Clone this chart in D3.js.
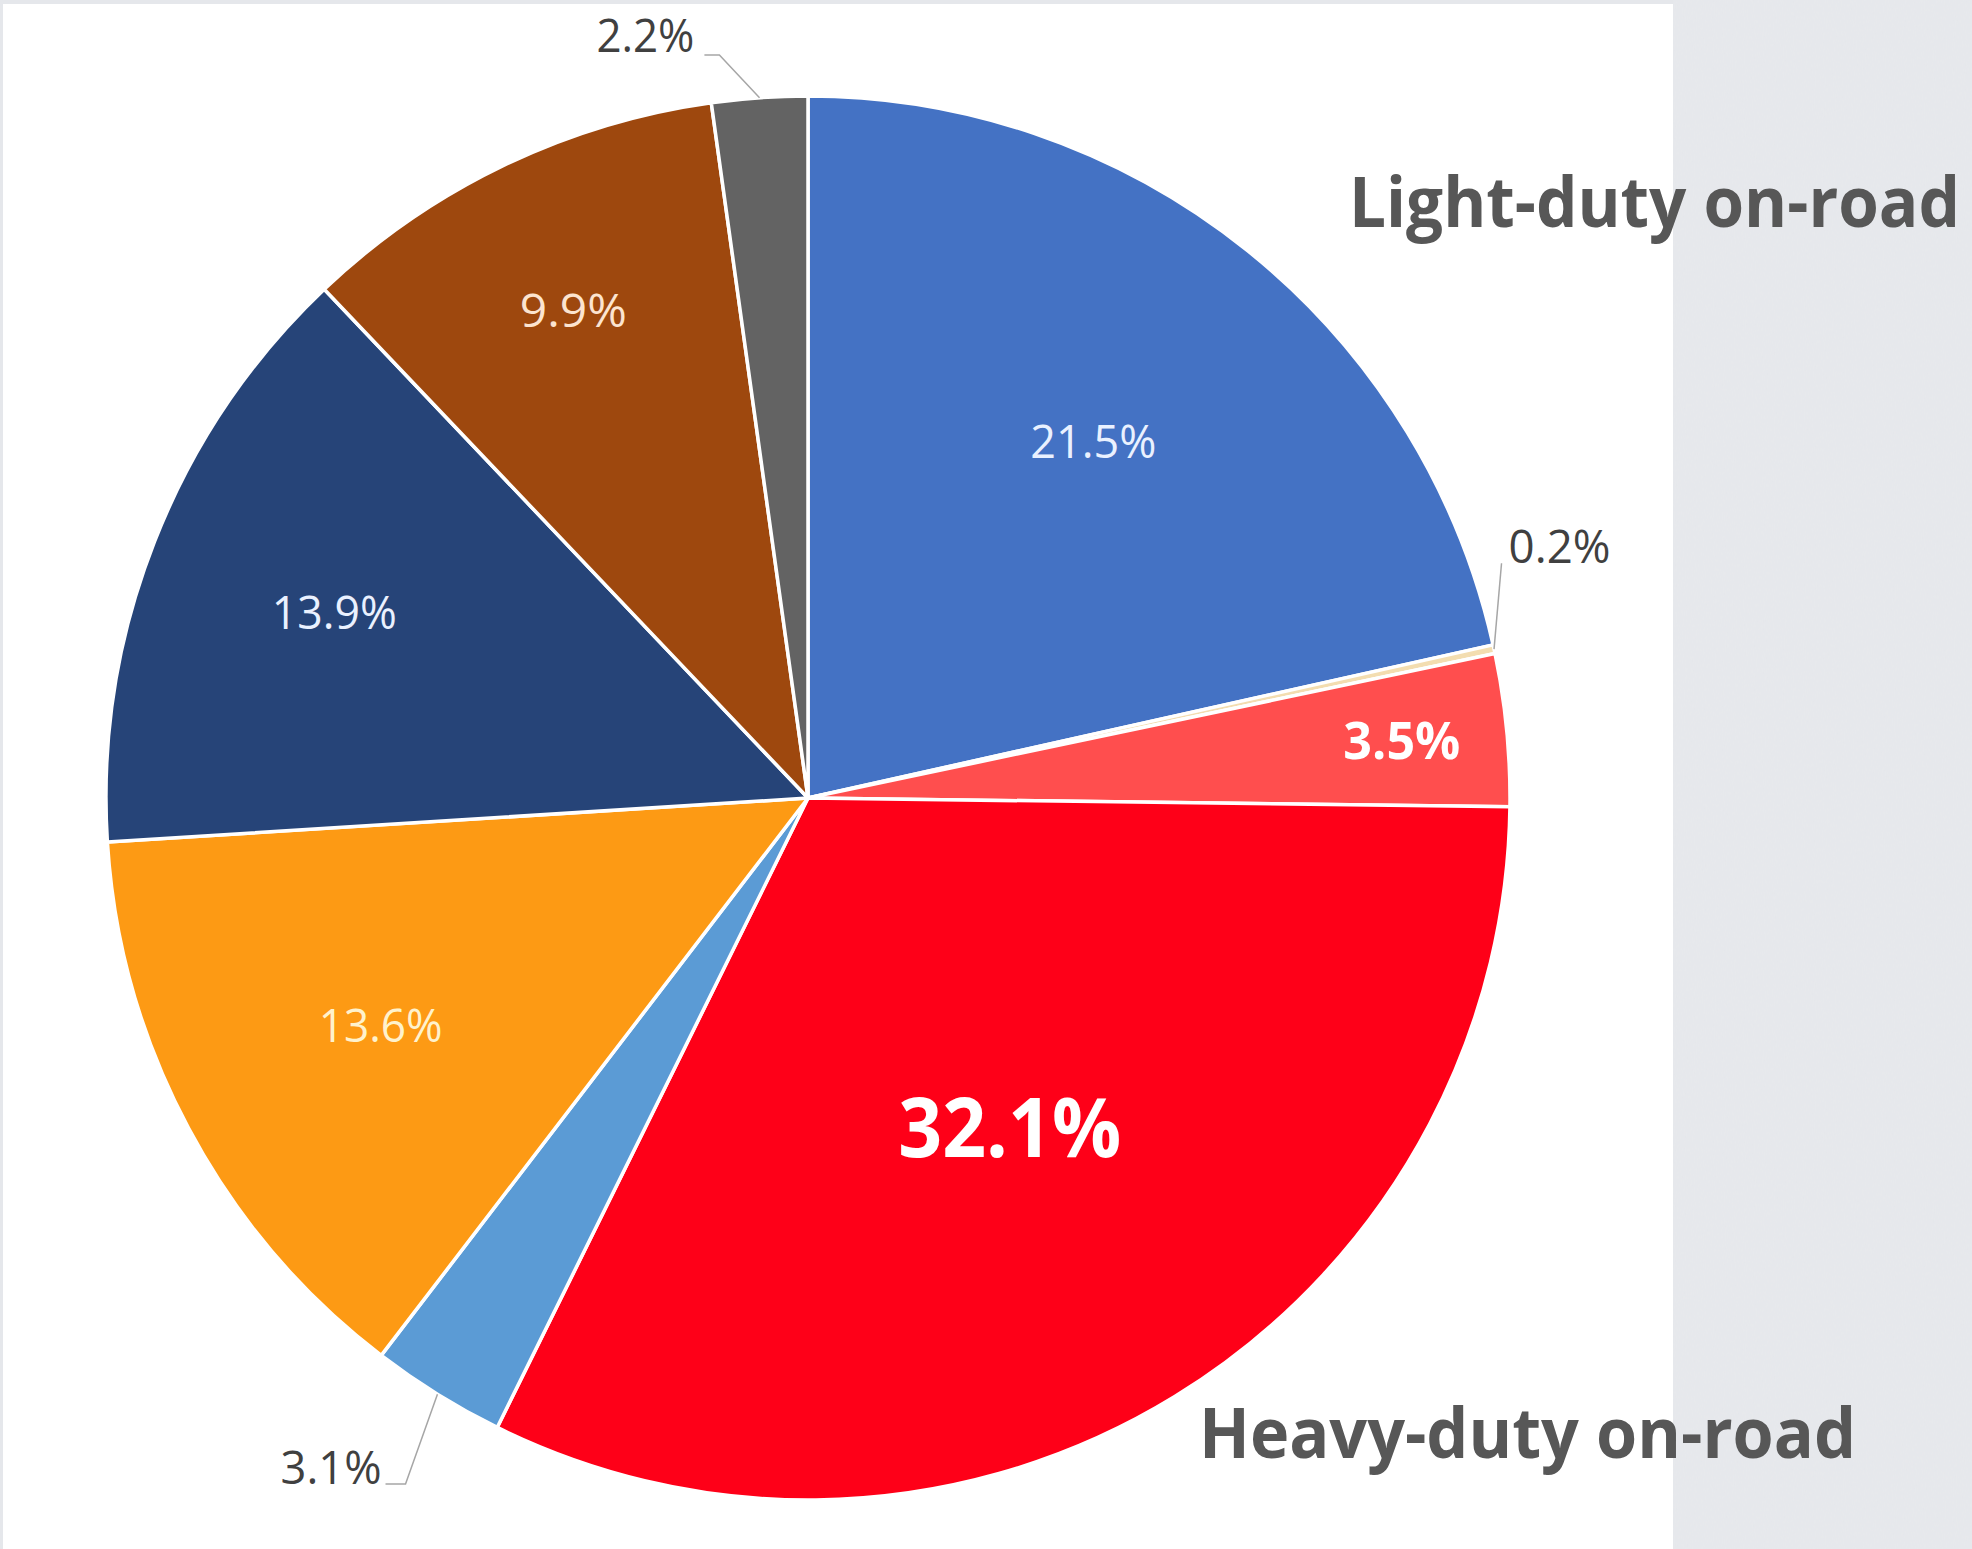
<!DOCTYPE html>
<html>
<head>
<meta charset="utf-8">
<script src="https://cdn.jsdelivr.net/npm/d3@7"></script>
<style>
  html, body { margin: 0; padding: 0; background: #fff; }
  svg { display: block; }
</style>
</head>
<body>
<script>
// Share of emissions per source, clockwise from 12 o'clock
const shares = [21.5, 0.2, 3.5, 32.1, 3.1, 13.6, 13.9, 9.9, 2.2];
const sliceColors = ['#4472C4', '#F3DDB0', '#FF4E4E', '#FE0018', '#5B9BD5', '#FD9A14', '#264478', '#9E480E', '#636363'];
const headings = ['Light-duty on-road', 'Heavy-duty on-road'];

const W = 1972, H = 1549;
const FONT = "'Open Sans', 'Liberation Sans', sans-serif";

const svg = d3.select('body').append('svg')
  .attr('width', W).attr('height', H);

// faint paper grain for the grey side panel
const defs = svg.append('defs');
const grain = defs.append('filter').attr('id', 'grain')
  .attr('x', 0).attr('y', 0).attr('width', '100%').attr('height', '100%');
grain.append('feTurbulence').attr('type', 'fractalNoise')
  .attr('baseFrequency', '0.9 0.25').attr('numOctaves', 2).attr('seed', 4).attr('result', 'n');
grain.append('feColorMatrix').attr('in', 'n').attr('type', 'matrix')
  .attr('values', '0 0 0 0 1  0 0 0 0 1  0 0 0 0 1  0 0 0 0.10 0');

// slide backdrop: grey frame with a white chart panel
svg.append('rect').attr('width', W).attr('height', H).attr('fill', '#E5E7EB');
svg.append('rect').attr('x', 1673).attr('width', W - 1673).attr('height', H)
  .attr('filter', 'url(#grain)');
svg.append('rect').attr('x', 3).attr('y', 4).attr('width', 1670).attr('height', H - 4).attr('fill', '#fff');

// pie geometry
const cx = 808, cy = 798, R = 702;
const slices = d3.pie().sort(null).value(d => d)(shares);
const arc = d3.arc().innerRadius(0).outerRadius(R);
const mid = d => (d.startAngle + d.endAngle) / 2;
const polar = (a, r) => [r * Math.sin(a), -r * Math.cos(a)];
const fmt = v => v.toFixed(1) + '%';

const g = svg.append('g').attr('transform', `translate(${cx},${cy})`);

g.selectAll('path.slice')
  .data(slices)
  .join('path')
  .attr('class', 'slice')
  .attr('d', arc)
  .attr('fill', (d, i) => sliceColors[i])
  .attr('stroke', '#fff')
  .attr('stroke-width', 3.5)
  .attr('stroke-linejoin', 'round');

// labels placed inside their slices, along the slice bisector
const insideLabels = [
  { i: 0, rf: 0.65,  size: 46, weight: 400, fill: '#EAF1FF', len: 126 },
  { i: 2, rf: 0.85,  size: 52, weight: 700, fill: '#FFFFFF', len: 117 },
  { i: 3, rf: 0.55,  size: 83, weight: 700, fill: '#FFFFFF', len: 223 },
  { i: 5, rf: 0.69,  size: 45, weight: 400, fill: '#FFF2CC', len: 124 },
  { i: 6, rf: 0.725, size: 46, weight: 400, fill: '#EAF1FF', len: 125 },
  { i: 7, rf: 0.77,  size: 45, weight: 400, fill: '#FCE4D0', len: 107 }
];

insideLabels.forEach(L => {
  const d = slices[L.i];
  const [x, y] = polar(mid(d), R * L.rf);
  g.append('text')
    .attr('x', x)
    .attr('y', y + L.size * 0.357)
    .attr('text-anchor', 'middle')
    .attr('font-family', FONT)
    .attr('font-size', L.size)
    .attr('font-weight', L.weight)
    .attr('fill', L.fill)
    .attr('textLength', L.len)
    .attr('lengthAdjust', 'spacingAndGlyphs')
    .text(fmt(shares[L.i]));
});

// small slices: labels outside with leader lines
const outsideLabels = [
  { i: 1, elbowDeg: 71.3,  rf: 1.043, tail: 0,   anchor: 'start', dx: 7,   dy: 0,  len: 102 },
  { i: 4, elbowDeg: 210.4, rf: 1.133, tail: -20, anchor: 'end',   dx: -4,  dy: 0,  len: 101 },
  { i: 8, elbowDeg: 353.2, rf: 1.066, tail: -15, anchor: 'end',   dx: -10, dy: -3, len: 98 }
];

outsideLabels.forEach(L => {
  const d = slices[L.i];
  const p0 = polar(mid(d), R);
  const p1 = polar(L.elbowDeg * Math.PI / 180, R * L.rf);
  const p2 = [p1[0] + L.tail, p1[1]];
  g.append('path')
    .attr('d', d3.line()([p0, p1, p2]))
    .attr('fill', 'none')
    .attr('stroke', '#A6A6A6')
    .attr('stroke-width', 1.5);
  g.append('text')
    .attr('x', p2[0] + L.dx)
    .attr('y', p2[1] + L.dy)
    .attr('text-anchor', L.anchor)
    .attr('font-family', FONT)
    .attr('font-size', 45)
    .attr('fill', '#404040')
    .attr('textLength', L.len)
    .attr('lengthAdjust', 'spacingAndGlyphs')
    .text(fmt(shares[L.i]));
});

// headings
const headingLayout = [
  { x: 1349, y: 227, len: 611 },
  { x: 1199, y: 1458, len: 657 }
];
headings.forEach((t, k) => {
  svg.append('text')
    .attr('x', headingLayout[k].x)
    .attr('y', headingLayout[k].y)
    .attr('font-family', FONT)
    .attr('font-size', 70)
    .attr('font-weight', 700)
    .attr('fill', '#575757')
    .attr('textLength', headingLayout[k].len)
    .attr('lengthAdjust', 'spacingAndGlyphs')
    .text(t);
});
</script>
</body>
</html>
